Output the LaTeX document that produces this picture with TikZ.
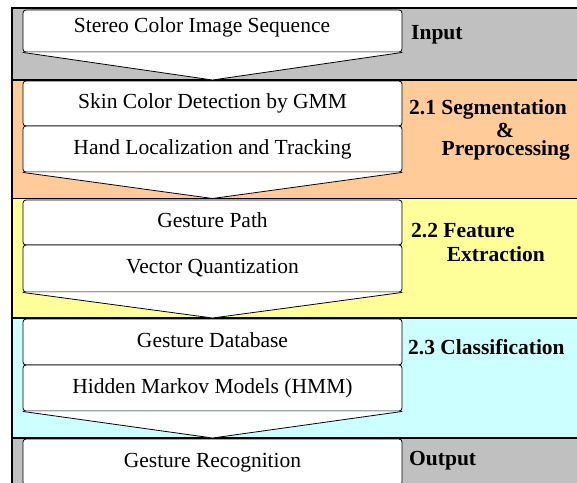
\documentclass[tikz,border=0pt]{standalone}
\usepackage{fontspec}
\setmainfont{Liberation Serif}
\usepackage{xcolor}
\definecolor{bandgray}{RGB}{192,192,192}
\definecolor{bandorange}{RGB}{255,204,153}
\definecolor{bandyellow}{RGB}{255,255,153}
\definecolor{bandcyan}{RGB}{204,255,255}
\tikzstyle{band} = [draw=black, line width=1.5pt]
\tikzstyle{stepbox} = [rectangle, rounded corners=3pt, draw=black, fill=white, line width=0.8pt,
minimum width=379pt, text height=14pt, text depth=4pt, inner sep=0pt]
\tikzstyle{chevron} = [draw=black, fill=white, line width=0.8pt]
\tikzstyle{lbl} = [inner sep=0pt, font=\fontsize{21.5}{24}\selectfont\bfseries]

\begin{document}
\begin{tikzpicture}[x=1pt, y=-1pt, font=\fontsize{21.5}{24}\selectfont]
        \useasboundingbox (0,0) rectangle (577,482);
        \clip (0,0) rectangle (577,482);

        % Fill the bands first
        \draw[band, fill=bandgray] (12,8) rectangle (600,80);
        \draw[band, fill=bandorange] (12,80) rectangle (600,198.5);
        \draw[band, fill=bandyellow] (12,198.5) rectangle (600,318);
        \draw[band, fill=bandcyan] (12,318) rectangle (600,438);
        \draw[band, fill=bandgray] (12,438) rectangle (600,520);

        \node[stepbox, minimum height=42pt] (inp) at (212.5,31) {\raisebox{4pt}[\height][\depth]{Stereo Color Image Sequence}\hspace*{21pt}};
        \node[stepbox, minimum height=45pt] (skin) at (212.5,103.5) {Skin Color Detection by GMM};
        \node[stepbox, minimum height=46pt] (hand) at (212.5,149) {Hand Localization and Tracking};
        \node[stepbox, minimum height=45pt] (path) at (212.5,222.5) {Gesture Path};
        \node[stepbox, minimum height=47pt] (vq) at (212.5,268.5) {Vector Quantization};
        \node[stepbox, minimum height=46pt] (db) at (212.5,342) {Gesture Database};
        \node[stepbox, minimum height=46pt] (hmm) at (212.5,388) {Hidden Markov Models (HMM)};
        \node[stepbox, minimum height=46pt] (out) at (212.5,462) {Gesture Recognition};

        % Chevrons down to the next band
        \coordinate (tip1) at (212.5,80);
        \coordinate (tip2) at (212.5,198.5);
        \coordinate (tip3) at (212.5,318);
        \coordinate (tip4) at (212.5,438);
        \filldraw[chevron] (inp.south west) -- (tip1) -- (inp.south east);
        \filldraw[chevron] (hand.south west) -- (tip2) -- (hand.south east);
        \filldraw[chevron] (vq.south west) -- (tip3) -- (vq.south east);
        \filldraw[chevron] (hmm.south west) -- (tip4) -- (hmm.south east);

        % Stage labels
        \node[lbl, anchor=base west] (input) at (411,39) {Input};
        \node[lbl, anchor=base west] (seg) at (409,114.5) {2.1 Segmentation};
        \node[lbl, anchor=base, text height=13pt, text depth=0pt] (amp) at (505,137) {\&};
        \node[lbl, anchor=base west, text height=14pt] (prep) at (441.5,155) {Preprocessing};
        \node[lbl, anchor=base west] (feat) at (411,237.7) {2.2 Feature};
        \node[lbl, anchor=base west] (extr) at (446.7,261) {Extraction};
        \node[lbl, anchor=base west] (cls) at (408,354) {2.3 Classification};
        \node[lbl, anchor=base west] (output) at (409,465) {Output};
    \end{tikzpicture}
\end{document}
